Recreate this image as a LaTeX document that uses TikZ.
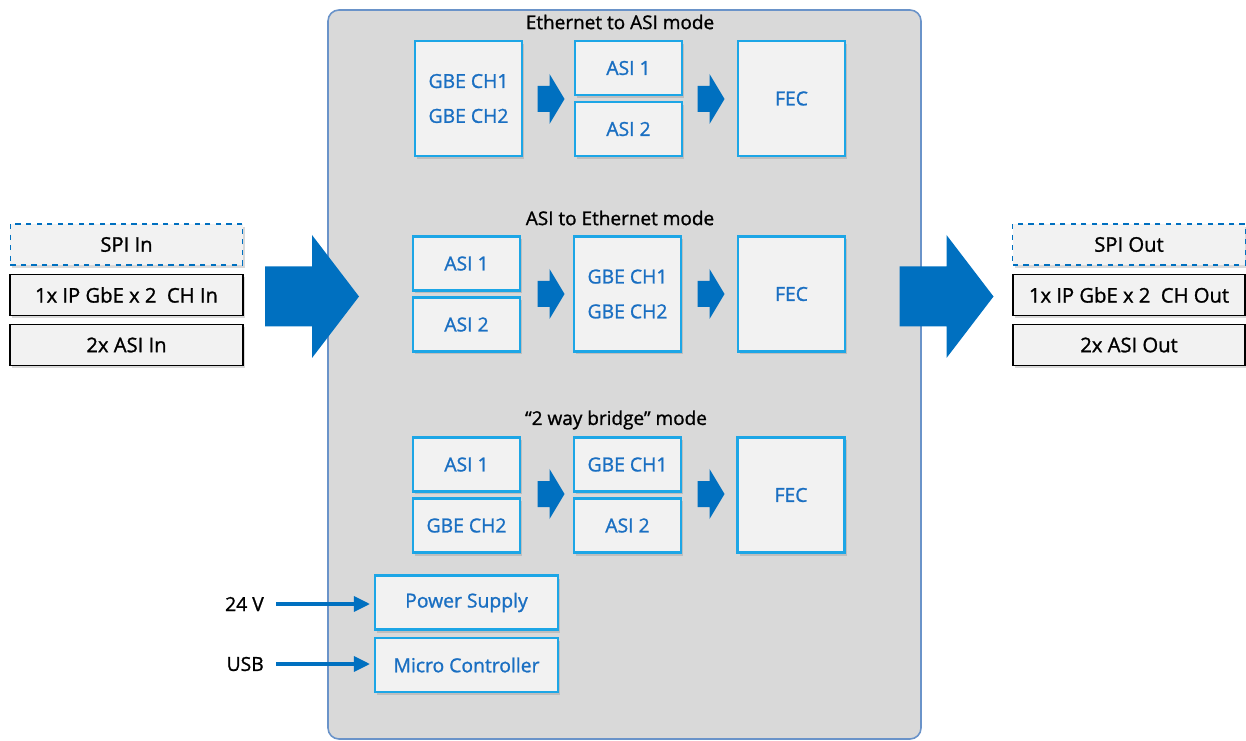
\documentclass[tikz,border=0pt]{standalone}
\usepackage{fontspec}
\setmainfont{Open Sans}[FakeBold=1.2]
\usetikzlibrary{arrows.meta,positioning,shadows}
\definecolor{asiblue}{HTML}{0070C0}
\definecolor{asicyan}{HTML}{1DA6E6}
\definecolor{asitext}{HTML}{1A6FC2}
\definecolor{asipanel}{HTML}{D9D9D9}
\definecolor{asiedge}{HTML}{6A93C9}
\definecolor{asifill}{HTML}{F2F2F2}

\begin{document}
\begin{tikzpicture}[
  blkbox/.style={rectangle,draw=asicyan,line width=1.2pt,fill=asifill,
                 minimum width=2.14cm,font=\fontsize{11}{13}\selectfont,
                 text=asitext,align=center,inner sep=0pt,
                 drop shadow={shadow xshift=0.04cm,shadow yshift=-0.06cm,opacity=0.3}},
  halfbox/.style={blkbox,minimum height=1.08cm},
  fullbox/.style={blkbox,minimum height=2.30cm},
  iobox/.style={rectangle,draw=black,line width=0.9pt,fill=asifill,
                minimum width=4.65cm,minimum height=0.82cm,inner sep=0pt,
                font=\fontsize{11.5}{13}\selectfont,
                drop shadow={shadow xshift=0.04cm,shadow yshift=-0.06cm,opacity=0.3}},
  spibox/.style={iobox,draw=asiblue,dashed,line width=0.8pt},
  modetitle/.style={font=\fontsize{10.8}{13}\selectfont},
  sidelabel/.style={font=\fontsize{11}{13}\selectfont,anchor=east},
  feed/.style={-{Triangle[length=0.32cm,width=0.3cm]},draw=asiblue,line width=1.8pt},
  bigarrow/.pic={\fill[asiblue] (-0.94,0.6) -- (0,0.6) -- (0,1.23) -- (0.94,0)
                 -- (0,-1.23) -- (0,-0.6) -- (-0.94,-0.6) -- cycle;},
  smallarrow/.pic={\fill[asiblue] (-0.24,0.26) -- (0,0.26) -- (0,0.5) -- (0.30,0)
                 -- (0,-0.5) -- (0,-0.26) -- (-0.24,-0.26) -- cycle;}
]
\useasboundingbox (0,0) rectangle (24.92,-14.82);

% ---- Main panel -------------------------------------------
\draw[asiedge,fill=asipanel,line width=0.9pt,rounded corners=0.22cm]
  (6.56,-0.20) rectangle (18.42,-14.78);

% ---- Ethernet to ASI mode ---------------------------------
\node[modetitle] (t1) at (12.40,-0.44) {Ethernet to ASI mode};
\node[fullbox] (ea-gbe)  at (9.37,-1.97)  {GBE CH1\\[0.24cm]GBE CH2};
\node[halfbox] (ea-asi1) at (12.57,-1.36) {ASI 1};
\node[halfbox] (ea-asi2) at (12.57,-2.58) {ASI 2};
\node[fullbox] (ea-fec)  at (15.83,-1.97) {FEC};
\pic at (10.99,-1.98) {smallarrow};
\pic at (14.19,-1.98) {smallarrow};

% ---- ASI to Ethernet mode ---------------------------------
\node[modetitle] (t2) at (12.40,-4.36) {ASI to Ethernet mode};
\node[halfbox] (ae-asi1) at (9.33,-5.27)  {ASI 1};
\node[halfbox] (ae-asi2) at (9.33,-6.49)  {ASI 2};
\node[fullbox] (ae-gbe)  at (12.55,-5.88) {GBE CH1\\[0.24cm]GBE CH2};
\node[fullbox] (ae-fec)  at (15.83,-5.88) {FEC};
\pic at (10.99,-5.88) {smallarrow};
\pic at (14.19,-5.88) {smallarrow};

% ---- 2 way bridge mode ------------------------------------
\node[modetitle] (t3) at (12.32,-8.40) {“2 way bridge” mode};
\node[halfbox] (br-asi1) at (9.33,-9.29)   {ASI 1};
\node[halfbox] (br-gbe2) at (9.33,-10.51)  {GBE CH2};
\node[halfbox] (br-gbe1) at (12.55,-9.29)  {GBE CH1};
\node[halfbox] (br-asi2) at (12.55,-10.51) {ASI 2};
\node[fullbox] (br-fec)  at (15.82,-9.90)  {FEC};
\pic at (10.99,-9.88) {smallarrow};
\pic at (14.19,-9.88) {smallarrow};

% ---- Power and control ------------------------------------
\node[halfbox,minimum width=3.66cm] (psu) at (9.33,-12.05) {Power Supply};
\node[halfbox,minimum width=3.66cm] (mcu) at (9.33,-13.30) {Micro Controller};
\node[sidelabel] (v24) at (5.40,-12.08) {24 V};
\node[sidelabel] (usb) at (5.40,-13.28) {USB};
\draw[feed] ([xshift=0.12cm]v24.east) -- ([xshift=-0.08cm]psu.west |- v24.east);
\draw[feed] ([xshift=0.12cm]usb.east) -- ([xshift=-0.08cm]mcu.west |- usb.east);

% ---- Inputs -----------------------------------------------
\node[spibox] (spi-in) at (2.53,-4.89) {SPI In};
\node[iobox]  (gbe-in) at (2.53,-5.90) {1x IP GbE x 2\ \ CH In};
\node[iobox]  (asi-in) at (2.53,-6.90) {2x ASI In};
\pic at (6.24,-5.93) {bigarrow};

% ---- Outputs ----------------------------------------------
\pic at (18.93,-5.93) {bigarrow};
\node[spibox] (spi-out) at (22.58,-4.89) {SPI Out};
\node[iobox]  (gbe-out) at (22.58,-5.90) {1x IP GbE x 2\ \ CH Out};
\node[iobox]  (asi-out) at (22.58,-6.90) {2x ASI Out};

\end{tikzpicture}
\end{document}
